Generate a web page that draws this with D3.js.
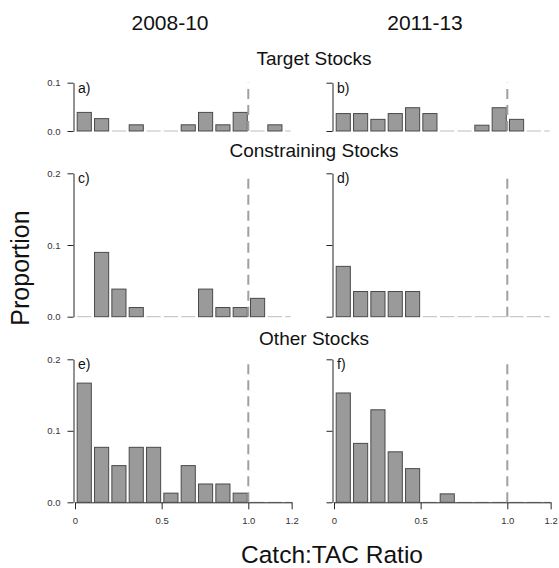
<!DOCTYPE html>
<html>
<head>
<meta charset="utf-8">
<script src="https://cdn.jsdelivr.net/npm/d3@7"></script>
<style>
  html, body { margin: 0; padding: 0; background: #fff; }
  svg { display: block; font-family: "Liberation Sans", Arial, sans-serif; }
</style>
</head>
<body>
<svg id="chart" width="559" height="568"></svg>
<script>
// Histogram bins of the catch:TAC ratio (width 0.1, last bin cut at 1.25)
const binEdges = [0, 0.1, 0.2, 0.3, 0.4, 0.5, 0.6, 0.7, 0.8, 0.9, 1.0, 1.1, 1.2, 1.3];
const periods = ["2008-10", "2011-13"];
const stockGroups = ["Target Stocks", "Constraining Stocks", "Other Stocks"];
const panelLetters = ["a)", "b)", "c)", "d)", "e)", "f)"];

// Proportion of stocks in each bin
const targetEarly    = [0.0385, 0.0256, 0, 0.0128, 0, 0, 0.0128, 0.0385, 0.0128, 0.0385, 0, 0.0128, 0];
const targetLate     = [0.0361, 0.0361, 0.0241, 0.0361, 0.0482, 0.0361, 0, 0, 0.0120, 0.0482, 0.0241, 0, 0];
const constrainEarly = [0, 0.0897, 0.0385, 0.0128, 0, 0, 0, 0.0385, 0.0128, 0.0128, 0.0256, 0, 0];
const constrainLate  = [0.0702, 0.0351, 0.0351, 0.0351, 0.0351, 0, 0, 0, 0, 0, 0, 0, 0];
const otherEarly     = [0.1667, 0.0769, 0.0513, 0.0769, 0.0769, 0.0128, 0.0513, 0.0256, 0.0256, 0.0128, 0, 0, 0];
const otherLate      = [0.1529, 0.0824, 0.1294, 0.0706, 0.0471, 0, 0.0118, 0, 0, 0, 0, 0, 0];

const yMaxByRow = [0.1, 0.2, 0.2];
const yTicksByRow = [[0, 0.1], [0, 0.1, 0.2], [0, 0.1, 0.2]];
const xTickValues = [0, 0.5, 1.0, 1.25];
const xTickLabels = ["0", "0.5", "1.0", "1.2"];
const refRatio = 1.0;

const panelData = [
  [targetEarly, targetLate],
  [constrainEarly, constrainLate],
  [otherEarly, otherLate]
];

const svg = d3.select("#chart");

// Layout of the grid
const colX = [75, 334];          // pixel position of ratio 0 in each column
const unitW = 173.3;             // pixels per unit of ratio
const xMax = 1.25;
const rowY = [                   // [bottom, top] of each row's plot region
  [131, 82.7],
  [316.7, 173.3],
  [502.3, 359.3]
];

const barFill = "#9a9a9a";
const barStroke = "#4a4a4a";
const axisColor = "#262626";

stockGroups.forEach((group, r) => {
  periods.forEach((period, c) => {
    const values = panelData[r][c];
    const x = d3.scaleLinear().domain([0, xMax]).range([colX[c], colX[c] + unitW * xMax]);
    const y = d3.scaleLinear().domain([0, yMaxByRow[r]]).range(rowY[r]);
    const g = svg.append("g");

    const bins = values.map((v, i) => ({ lo: binEdges[i], hi: Math.min(binEdges[i + 1], xMax), v }));

    // empty bins show as a flat outline along zero
    g.selectAll("line.empty").data(bins.filter(b => b.v === 0)).join("line")
      .attr("class", "empty")
      .attr("x1", b => x(b.lo) + 2.2)
      .attr("x2", b => Math.min(x(b.hi) - 1.0, x(xMax)))
      .attr("y1", y(0)).attr("y2", y(0))
      .attr("stroke", "#bdbdbd").attr("stroke-width", 1);

    // x axis on the bottom row only
    if (r === stockGroups.length - 1) {
      const xAxis = d3.axisBottom(x)
        .tickValues(xTickValues)
        .tickFormat((d, i) => xTickLabels[i])
        .tickSizeInner(7).tickSizeOuter(0).tickPadding(8);
      const ax = g.append("g").attr("transform", `translate(0,${y(0)})`).call(xAxis);
      ax.select(".domain").attr("stroke", axisColor);
      ax.selectAll(".tick line").attr("stroke", axisColor);
      ax.selectAll(".tick text").attr("fill", "#333").style("font-size", "9.5px")
        .style("font-family", "'Liberation Sans', Arial, sans-serif");
    }

    // bars
    g.selectAll("rect.bar").data(bins.filter(b => b.v > 0)).join("rect")
      .attr("class", "bar")
      .attr("x", b => x(b.lo) + 2.2)
      .attr("width", b => x(b.hi) - x(b.lo) - 3.2)
      .attr("y", b => y(b.v))
      .attr("height", b => y(0) - y(b.v))
      .attr("fill", barFill)
      .attr("stroke", barStroke)
      .attr("stroke-width", 1);

    // reference line at ratio 1
    g.append("line")
      .attr("x1", x(refRatio)).attr("x2", x(refRatio))
      .attr("y1", y(0)).attr("y2", y(yMaxByRow[r]))
      .attr("stroke", "#a0a0a0").attr("stroke-width", 2)
      .attr("stroke-dasharray", "10,6");

    // y axis
    const yAxis = d3.axisLeft(y)
      .tickValues(yTicksByRow[r])
      .tickFormat(c === 0 ? d3.format(".1f") : () => "")
      .tickSizeInner(6).tickSizeOuter(0).tickPadding(7);
    const ay = g.append("g").attr("transform", `translate(${x(0) - 1.5},0)`).call(yAxis);
    ay.select(".domain").attr("stroke", axisColor);
    ay.selectAll(".tick line").attr("stroke", axisColor);
    ay.selectAll(".tick text").attr("fill", "#333").style("font-size", "9.5px")
      .style("font-family", "'Liberation Sans', Arial, sans-serif");

    // panel letter
    g.append("text")
      .attr("x", x(0) + 3).attr("y", y(yMaxByRow[r]) + 10)
      .style("font-size", "14px").attr("fill", "#111")
      .text(panelLetters[r * 2 + c]);
  });
});

// column headings
const colTitleX = [170, 425];
periods.forEach((p, c) => {
  svg.append("text").attr("x", colTitleX[c]).attr("y", 30)
    .attr("text-anchor", "middle").style("font-size", "21px").attr("fill", "#111")
    .text(p);
});

// row headings
const rowTitleY = [65, 157, 345];
stockGroups.forEach((s, r) => {
  svg.append("text").attr("x", 314).attr("y", rowTitleY[r])
    .attr("text-anchor", "middle").style("font-size", "19px").attr("fill", "#111")
    .text(s);
});

// axis titles
svg.append("text")
  .attr("transform", "translate(29,268) rotate(-90)")
  .attr("text-anchor", "middle").style("font-size", "25px").attr("fill", "#111")
  .text("Proportion");

svg.append("text").attr("x", 332).attr("y", 563)
  .attr("text-anchor", "middle").style("font-size", "24.5px").attr("fill", "#111")
  .text("Catch:TAC Ratio");
</script>
</body>
</html>
